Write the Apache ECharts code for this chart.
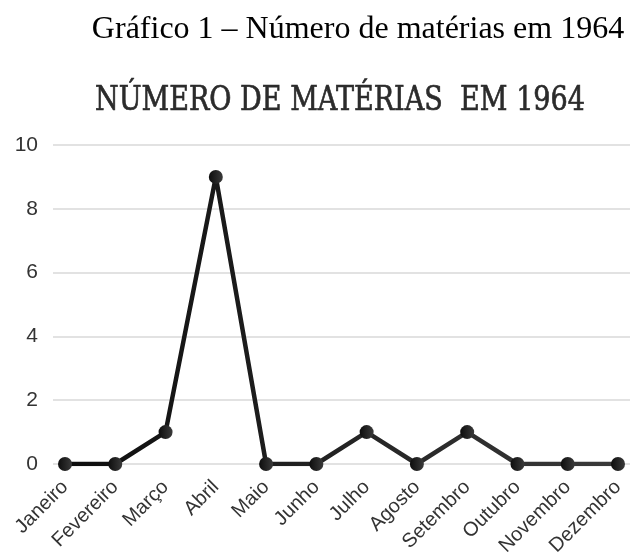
<!DOCTYPE html>
<html>
<head>
<meta charset="utf-8">
<script src="https://cdn.jsdelivr.net/npm/echarts@6/dist/echarts.min.js"></script>
<style>
  html, body { margin: 0; padding: 0; background: #fff; }
  #main { width: 630px; height: 559px; }
</style>
</head>
<body>
<div id="main"></div>
<script>
'use strict';
// meses e número de matérias
var meses = ['Janeiro', 'Fevereiro', 'Março', 'Abril', 'Maio', 'Junho',
  'Julho', 'Agosto', 'Setembro', 'Outubro', 'Novembro', 'Dezembro'];
var materias = [0, 0, 1, 9, 0, 0, 1, 0, 1, 0, 0, 0];
var yTicks = [0, 2, 4, 6, 8, 10];

var chart = echarts.init(document.getElementById('main'));

function linha() {
  return new echarts.graphic.LinearGradient(0, 0, 1, 0, [
    { offset: 0, color: '#0d0d0d' }, { offset: 1, color: '#3a3a3a' }
  ]);
}

var option = {
  backgroundColor: '#fff',
  animation: false,
  title: {
    text: 'Gráfico 1 – Número de matérias em 1964',
    left: 353, top: 9, textAlign: 'center',
    textStyle: { fontFamily: 'Liberation Serif', fontSize: 32, fontWeight: 'normal', color: '#000' }
  },
  // título interno do gráfico (fonte condensada)
  graphic: [{
    type: 'text',
    x: 95, y: 101,
    scaleX: 0.82,
    style: {
      text: 'NÚMERO DE MATÉRIAS  EM 1964',
      font: '33px "DejaVu Serif"',
      fill: '#2b2b2b',
      stroke: '#2b2b2b',
      lineWidth: 0.7,
      align: 'left',
      verticalAlign: 'middle'
    }
  }],
  grid: [
    // grade de fundo (linhas horizontais)
    { left: 53, right: 0, top: 145, bottom: 95 },
    // área dos dados
    { left: 65, right: 12, top: 145, bottom: 95 }
  ],
  xAxis: [{
    gridIndex: 0, type: 'value', min: 0, max: 1, show: false
  }, {
    gridIndex: 1, type: 'category', data: meses, boundaryGap: false,
    axisLine: { show: false }, axisTick: { show: false },
    axisLabel: {
      rotate: 45, interval: 0, margin: 20,
      fontFamily: 'Liberation Sans', fontSize: 20, color: '#333'
    }
  }],
  yAxis: [{
    gridIndex: 0, type: 'value', min: yTicks[0], max: yTicks[yTicks.length - 1], interval: 2,
    axisLine: { show: false }, axisTick: { show: false },
    axisLabel: { margin: 15, fontFamily: 'Liberation Sans', fontSize: 21, color: '#333' },
    splitLine: { lineStyle: { color: '#d9d9d9', width: 1.5 } }
  }, {
    gridIndex: 1, type: 'value', min: yTicks[0], max: yTicks[yTicks.length - 1], interval: 2,
    show: false, splitLine: { show: false }
  }],
  series: [{
    type: 'line',
    xAxisIndex: 1, yAxisIndex: 1,
    data: materias,
    symbol: 'circle', symbolSize: 14,
    lineStyle: { width: 4.5, color: linha() },
    itemStyle: { color: linha() }
  }]
};

chart.setOption(option);
</script>
</body>
</html>
